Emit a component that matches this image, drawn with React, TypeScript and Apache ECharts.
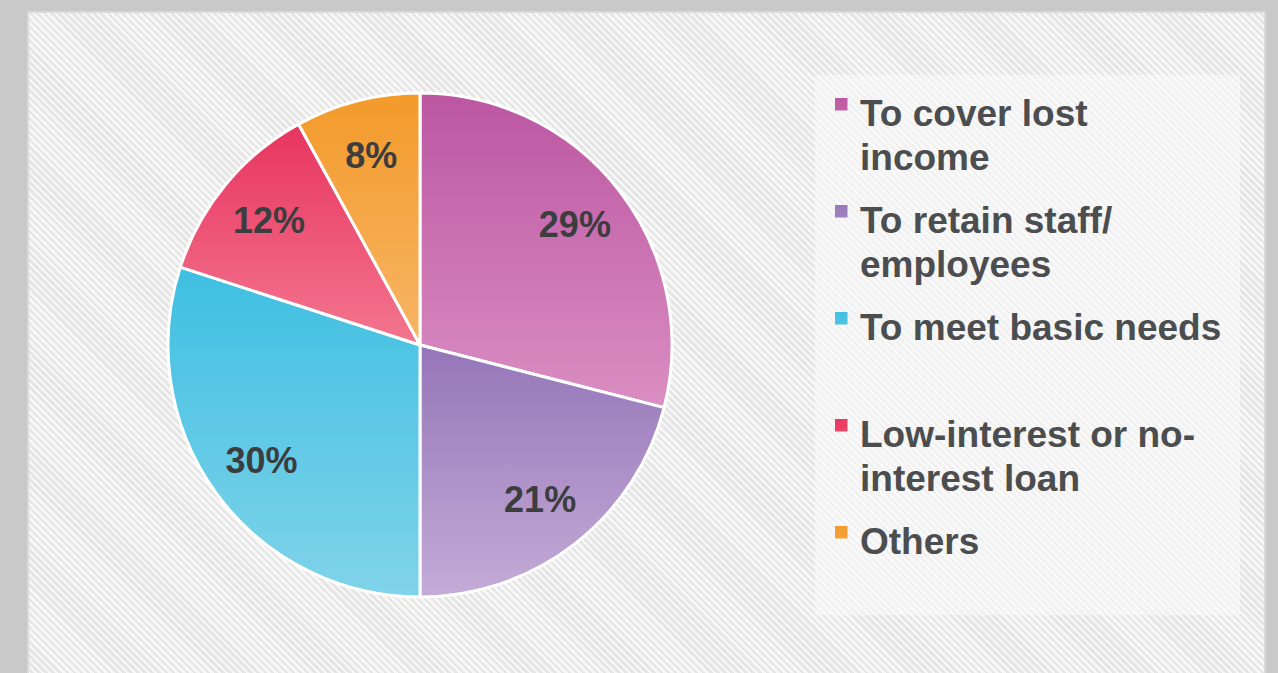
import React, { useEffect, useRef } from "react";
import * as echarts from "echarts";

const categories = [
  "To cover lost\nincome",
  "To retain staff/\nemployees",
  "To meet basic needs\n",
  "Low-interest or no-\ninterest loan",
  "Others\n",
];
const values = [29, 21, 30, 12, 8];
const topColors = ["#bc56a2", "#9575b8", "#3ebfe1", "#e8345f", "#f39a2a"];
const bottomColors = ["#da8ec2", "#c4abd7", "#80d3ea", "#f3768f", "#f7b565"];

export default function App() {
  const ref = useRef<HTMLDivElement>(null);
  useEffect(() => {
    if (!ref.current) return;
    const chart = echarts.init(ref.current, null, { renderer: "svg" });
    const grad = (i: number) =>
      new echarts.graphic.LinearGradient(0, 0, 0, 1, [
        { offset: 0, color: topColors[i] },
        { offset: 1, color: bottomColors[i] },
      ]);
    const iconPath =
      "path://M0,7L12.5,7L12.5,19.5L0,19.5Z M20,88L20.01,88L20.01,87.99Z M0,0L0.01,0L0.01,0.01Z";
    chart.setOption({
      animation: false,
      graphic: [
        {
          type: "rect",
          shape: { x: 815, y: 75, width: 425, height: 540 },
          style: { fill: "rgba(252,252,252,0.55)" },
          silent: true,
          z: -1,
        },
      ],
      legend: {
        orient: "vertical",
        left: 835,
        top: 91,
        padding: 0,
        itemGap: 19,
        itemWidth: 20,
        itemHeight: 88,
        icon: iconPath,
        selectedMode: false,
        itemStyle: { borderWidth: 0 },
        data: categories,
        textStyle: {
          fontFamily: "Liberation Sans, Arial, sans-serif",
          fontWeight: "bold",
          fontSize: 37,
          lineHeight: 44,
          color: "#4b4d4f",
        },
      },
      series: [
        {
          type: "pie",
          center: [420, 345],
          radius: [0, 252],
          startAngle: 90,
          clockwise: true,
          silent: true,
          label: { show: false },
          labelLine: { show: false },
          itemStyle: { borderColor: "#ffffff", borderWidth: 3 },
          data: categories.map((name, i) => ({
            name,
            value: values[i],
            itemStyle: { color: grad(i) },
          })),
        },
        {
          type: "pie",
          center: [420, 345],
          radius: [134, 252],
          startAngle: 90,
          clockwise: true,
          silent: true,
          itemStyle: { color: "rgba(0,0,0,0)", borderWidth: 0 },
          label: {
            show: true,
            position: "inside",
            formatter: "{c}%",
            fontFamily: "Liberation Sans, Arial, sans-serif",
            fontWeight: "bold",
            fontSize: 36,
            color: "#3c3d3f",
          },
          labelLine: { show: false },
          data: categories.map((name, i) => ({ name, value: values[i] })),
        },
      ],
    });
    return () => chart.dispose();
  }, []);

  return (
    <div
      style={{
        position: "fixed",
        left: 0,
        top: 0,
        width: 1278,
        height: 673,
        background: "#c8c9c8",
        overflow: "hidden",
      }}
    >
      <div
        style={{
          position: "absolute",
          left: 27,
          top: 11,
          width: 1239,
          height: 680,
          boxSizing: "border-box",
          border: "2px solid #d9d9d9",
          background:
            "repeating-linear-gradient(45deg, #f7f7f7 0px, #f7f7f7 2.5px, #e5e5e5 2.5px, #e5e5e5 5px)",
        }}
      />
      <div
        ref={ref}
        style={{ position: "absolute", left: 0, top: 0, width: 1278, height: 673 }}
      />
    </div>
  );
}
